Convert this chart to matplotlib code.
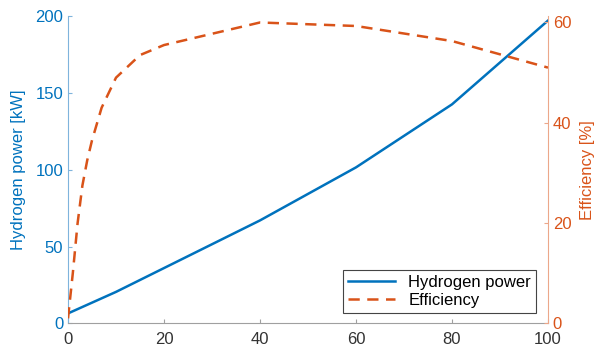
import numpy as np
import matplotlib.pyplot as plt

plt.rcParams['font.family'] = ['Liberation Sans', 'DejaVu Sans']

# load [%]
load_power = [0, 10, 20, 40, 60, 80, 100]
hydrogen_kw = [6.5, 20.5, 36, 67, 101.5, 142.5, 197]

load_eff = [0, 1, 2, 3, 4, 5, 7, 10, 15, 20, 40, 60, 80, 100]
efficiency = [1, 10, 20, 27.5, 32.5, 36.5, 43, 49, 53.5, 55.5, 60, 59.3, 56.3, 51]

blue = '#0072BD'
orange = '#D95319'

fig = plt.figure(figsize=(5.95, 3.47), dpi=100)
ax = fig.add_axes([0.1143, 0.068, 0.8067, 0.886])
ax2 = ax.twinx()

l1, = ax.plot(load_power, hydrogen_kw, color=blue, lw=1.8, label='Hydrogen power')
l2, = ax2.plot(load_eff, efficiency, color=orange, lw=1.8, ls=(0, (4.5, 3)), label='Efficiency')

ax.set_xlim(0, 100)
ax.set_ylim(0, 200)
ax2.set_ylim(0, 61.3)
ax.set_xticks([0, 20, 40, 60, 80, 100])
ax.set_yticks([0, 50, 100, 150, 200])
ax2.set_yticks([0, 20, 40, 60])

ax.set_ylabel('Hydrogen power [kW]', color=blue, fontsize=12, labelpad=7)
ax2.set_ylabel('Efficiency [%]', color=orange, fontsize=12, labelpad=6)

for a in (ax, ax2):
    a.spines['top'].set_visible(False)
ax2.spines['left'].set_visible(False)
ax2.spines['bottom'].set_visible(False)
ax.spines['right'].set_visible(False)
ax.spines['left'].set_color('#7fb4dc')
ax2.spines['right'].set_color('#eca78a')
ax.spines['bottom'].set_color('#a0a0a0')

ax.tick_params(axis='x', direction='in', length=3, pad=6, colors='#a0a0a0', labelcolor='#333333', labelsize=12)
ax.tick_params(axis='y', direction='in', length=3, colors='#7fb4dc', labelcolor=blue, labelsize=12)
ax2.tick_params(axis='y', direction='in', length=3, colors='#eca78a', labelcolor=orange, labelsize=12)

leg = ax2.legend([l1, l2], ['Hydrogen power', 'Efficiency'], loc='lower right',
                 bbox_to_anchor=(0.975, 0.034), fontsize=12, fancybox=False,
                 framealpha=1, edgecolor='#444444', handlelength=2.8,
                 borderpad=0.3, labelspacing=0.2, borderaxespad=0)
leg.get_frame().set_linewidth(0.8)

fig.savefig('out.png', dpi=100)
